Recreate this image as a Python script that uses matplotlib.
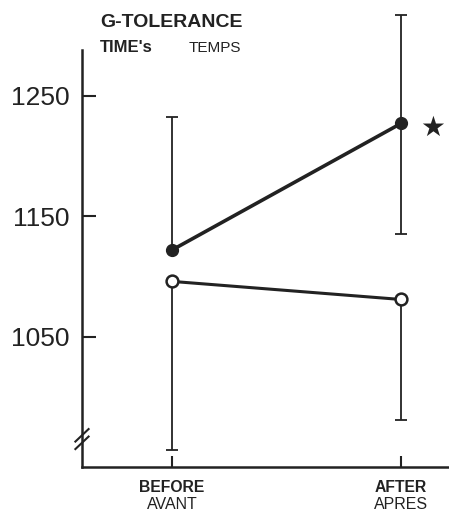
import numpy as np
from matplotlib import pyplot as plt
from matplotlib.transforms import blended_transform_factory

# Data
phases_en = ['BEFORE', 'AFTER']
phases_fr = ['AVANT', 'APRES']
filled_mean = np.array([1122, 1227])
filled_err_low = np.array([0, 92])
filled_err_high = np.array([110, 90])
open_mean = np.array([1096, 1081])
open_err_low = np.array([140, 100])
open_err_high = np.array([0, 0])
ytick_values = [1050, 1150, 1250]

plt.rcParams['font.family'] = ['Liberation Sans', 'DejaVu Sans']

fig = plt.figure(figsize=(4.49, 5.11), dpi=100)
ax = fig.add_axes([0.1826, 0.0861, 0.8174, 0.8161])

x = np.arange(len(phases_en))

# error bars first, markers on top
for mean, lo, hi in [(filled_mean, filled_err_low, filled_err_high),
                     (open_mean, open_err_low, open_err_high)]:
    eb = ax.errorbar(x, mean, yerr=[lo, hi], fmt='none', ecolor='#222222',
                     elinewidth=1.3, capsize=4.5, capthick=1.3, zorder=1)
    for art in eb.get_children():
        art.set_clip_on(False)

ax.plot(x, filled_mean, color='#222222', lw=2.6, marker='o', ms=8.5,
        mfc='#222222', mec='#222222', zorder=3)
ax.plot(x, open_mean, color='#222222', lw=2.2, marker='o', ms=8.5,
        mfc='white', mec='#222222', mew=1.8, zorder=3)

# significance star next to the "after" point
ax.annotate('\u2605', xy=(x[1], filled_mean[1]), xytext=(23, -3), textcoords='offset points',
            ha='center', va='center', fontsize=20, family='DejaVu Sans', color='#222222')

ax.set_xlim(-0.393, 1.21)
ax.set_ylim(942, 1288)
ax.set_yticks(ytick_values)
ax.set_yticklabels([str(v) for v in ytick_values], fontsize=19, color='#222222')
ax.set_xticks(x)
ax.set_xticklabels([])
ax.tick_params(axis='y', direction='in', length=10, width=1.5, pad=9, color='#222222')
ax.tick_params(axis='x', direction='in', length=8, width=1.5, color='#222222')

for s in ['top', 'right']:
    ax.spines[s].set_visible(False)
for s in ['left', 'bottom']:
    ax.spines[s].set_linewidth(1.8)
    ax.spines[s].set_color('#222222')

# axis break on the y axis
for dy in (0.0, 0.018):
    ax.plot([-0.018, 0.018], [0.043 + dy, 0.073 + dy], transform=ax.transAxes,
            color='#222222', lw=1.5, clip_on=False)

# category labels, bold English over French
trans = blended_transform_factory(ax.transData, ax.transAxes)
for xi, en, fr in zip(x, phases_en, phases_fr):
    ax.text(xi, -0.048, en, transform=trans, ha='center', va='center',
            fontsize=11.3, fontweight='bold', color='#222222')
    ax.text(xi, -0.091, fr, transform=trans, ha='center', va='center',
            fontsize=11.5, color='#222222')

# heading
fig.text(0.223, 0.948, 'G-TOLERANCE', fontsize=14, fontweight='bold', color='#222222')
fig.text(0.223, 0.899, "TIME's", fontsize=12, fontweight='bold', color='#222222')
fig.text(0.419, 0.899, 'TEMPS', fontsize=11, color='#222222')

plt.savefig('out.png', dpi=100)
